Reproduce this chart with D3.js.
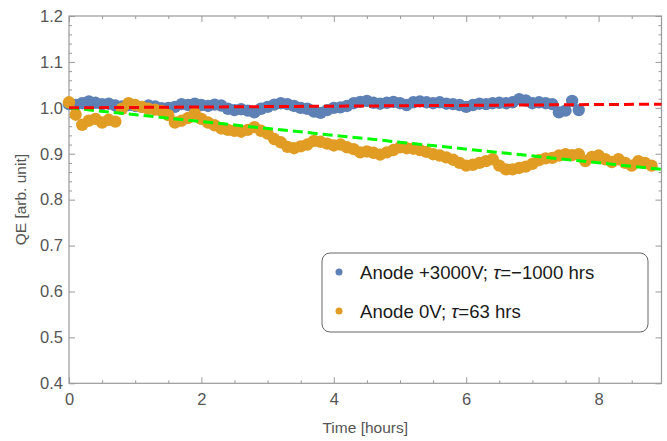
<!DOCTYPE html>
<html>
<head>
<meta charset="utf-8">
<script src="https://cdn.jsdelivr.net/npm/d3@7"></script>
<style>
  body { margin: 0; background: #fff; }
  text { font-family: "Liberation Sans", Arial, sans-serif; }
</style>
</head>
<body>
<svg id="chart"></svg>
<script>
const width = 667;
const height = 441;
const margin = { top: 16, right: 5.5, bottom: 57.7, left: 69 };

// time grid for the two runs (hours)
const timeAnode3000 = d3.range(78).map(i => i / 10);
const timeAnode0 = d3.range(89).map(i => i / 10);

const qeAnode3000 = [
    1.008, 1.006, 1.010, 1.014, 1.011, 1.008, 1.009, 1.005, 1.003, 1.006,
    1.004, 1.002, 1.005, 1.003, 0.999, 1.000, 1.002, 1.008, 1.006, 1.009,
    1.006, 1.004, 1.007, 1.005, 0.998, 0.995, 0.997, 0.994, 0.990, 0.998,
    1.002, 1.007, 1.010, 1.008, 1.004, 1.000, 0.998, 0.992, 0.989, 0.995,
    1.000, 1.001, 1.004, 1.010, 1.013, 1.015, 1.011, 1.009, 1.011, 1.013,
    1.010, 1.006, 1.012, 1.014, 1.012, 1.010, 1.012, 1.009, 1.008, 1.006,
    1.002, 1.006, 1.009, 1.008, 1.010, 1.011, 1.010, 1.012, 1.019, 1.016,
    1.010, 1.012, 1.010, 1.008, 0.990, 0.994, 1.015, 0.995
];

const qeAnode0 = [
    1.012, 0.985, 0.963, 0.972, 0.976, 0.968, 0.974, 0.970, 0.998, 1.010,
    1.006, 1.002, 0.998, 0.996, 0.993, 0.984, 0.968, 0.972, 0.978, 0.988,
    0.976, 0.968, 0.962, 0.955, 0.952, 0.950, 0.948, 0.952, 0.958, 0.950,
    0.944, 0.932, 0.925, 0.915, 0.912, 0.916, 0.920, 0.928, 0.926, 0.922,
    0.918, 0.920, 0.914, 0.910, 0.903, 0.905, 0.902, 0.898, 0.903, 0.908,
    0.914, 0.912, 0.911, 0.908, 0.904, 0.899, 0.896, 0.892, 0.887, 0.880,
    0.874, 0.876, 0.880, 0.884, 0.888, 0.874, 0.866, 0.866, 0.869, 0.872,
    0.878, 0.886, 0.890, 0.891, 0.896, 0.899, 0.897, 0.899, 0.884, 0.893,
    0.896, 0.888, 0.882, 0.888, 0.880, 0.874, 0.884, 0.880, 0.874
];

// fit lines, end points
const fitTime = [0, 8.95];
const fitAnode3000 = [1.000, 1.008];
const fitAnode0 = [1.000, 0.866];

const legendLabels = [
    ['Anode +3000V; ', 'τ', '=\u22121000 hrs'],
    ['Anode 0V; ', 'τ', '=63 hrs']
];
const xMajor = [0, 2, 4, 6, 8];
const xMinor = d3.range(0.5, 9, 0.5).filter(v => v % 2 !== 0);
const yMajor = [0.4, 0.5, 0.6, 0.7, 0.8, 0.9, 1.0, 1.1, 1.2];
const yMinor = d3.range(21, 60).map(i => 0.4 + i * 0.02).filter((v, i) => (i + 1) % 5 !== 0 && v < 1.2);

const blue = '#5e81b5';
const orange = '#e19c24';
const frameColor = '#999';
const labelColor = '#555';

const svg = d3.select('#chart')
    .attr('width', width)
    .attr('height', height);

const xScale = d3.scaleLinear().domain([0, 8.95]).range([margin.left, width - margin.right]);
const yScale = d3.scaleLinear().domain([0.4, 1.2]).range([height - margin.bottom, margin.top]);

const plotW = width - margin.right - margin.left;
const plotH = height - margin.bottom - margin.top;

function styleAxis(g) {
    g.select('.domain').remove();
    g.selectAll('line').attr('stroke', frameColor);
    g.selectAll('text').attr('fill', labelColor).style('font-size', '16.5px');
}

// bottom & top
svg.append('g')
    .attr('transform', `translate(0, ${height - margin.bottom})`)
    .call(d3.axisBottom(xScale).tickValues(xMajor).tickSize(-6).tickPadding(10).tickFormat(d3.format('d')))
    .call(styleAxis);
svg.append('g')
    .attr('transform', `translate(0, ${height - margin.bottom})`)
    .call(d3.axisBottom(xScale).tickValues(xMinor).tickSize(-3).tickFormat(''))
    .call(styleAxis);
svg.append('g')
    .attr('transform', `translate(0, ${margin.top})`)
    .call(d3.axisTop(xScale).tickValues(xMajor).tickSize(-6).tickFormat(''))
    .call(styleAxis);
svg.append('g')
    .attr('transform', `translate(0, ${margin.top})`)
    .call(d3.axisTop(xScale).tickValues(xMinor).tickSize(-3).tickFormat(''))
    .call(styleAxis);

// left & right
svg.append('g')
    .attr('transform', `translate(${margin.left}, 0)`)
    .call(d3.axisLeft(yScale).tickValues(yMajor).tickSize(-6).tickPadding(6).tickFormat(d3.format('.1f')))
    .call(styleAxis);
svg.append('g')
    .attr('transform', `translate(${margin.left}, 0)`)
    .call(d3.axisLeft(yScale).tickValues(yMinor).tickSize(-3).tickFormat(''))
    .call(styleAxis);
svg.append('g')
    .attr('transform', `translate(${width - margin.right}, 0)`)
    .call(d3.axisRight(yScale).tickValues(yMajor).tickSize(-6).tickFormat(''))
    .call(styleAxis);
svg.append('g')
    .attr('transform', `translate(${width - margin.right}, 0)`)
    .call(d3.axisRight(yScale).tickValues(yMinor).tickSize(-3).tickFormat(''))
    .call(styleAxis);

svg.append('rect')
    .attr('x', margin.left)
    .attr('y', margin.top)
    .attr('width', plotW)
    .attr('height', plotH)
    .attr('fill', 'none')
    .attr('stroke', frameColor)
    .attr('stroke-width', 1.2);

// axis titles
svg.append('text')
    .attr('x', margin.left + plotW / 2)
    .attr('y', 433)
    .attr('text-anchor', 'middle')
    .attr('fill', labelColor)
    .style('font-size', '15.5px')
    .text('Time [hours]');
svg.append('text')
    .attr('transform', `translate(26, ${margin.top + plotH / 2}) rotate(-90)`)
    .attr('text-anchor', 'middle')
    .attr('fill', labelColor)
    .style('font-size', '15.5px')
    .text('QE [arb. unit]');

// data points
const plot = svg.append('g');
plot.selectAll('.dot-3000')
    .data(qeAnode3000)
    .enter()
    .append('circle')
    .attr('class', 'dot-3000')
    .attr('cx', (d, i) => xScale(timeAnode3000[i]))
    .attr('cy', d => yScale(d))
    .attr('r', 6.2)
    .attr('fill', blue);

plot.selectAll('.dot-0')
    .data(qeAnode0)
    .enter()
    .append('circle')
    .attr('class', 'dot-0')
    .attr('cx', (d, i) => xScale(timeAnode0[i]))
    .attr('cy', d => yScale(d))
    .attr('r', 6.2)
    .attr('fill', orange);

// fits
const fitLine = d3.line()
    .x((d, i) => xScale(fitTime[i]))
    .y(d => yScale(d));

svg.append('path')
    .datum(fitAnode0)
    .attr('d', fitLine)
    .attr('fill', 'none')
    .attr('stroke', '#00ff00')
    .attr('stroke-width', 3)
    .attr('stroke-dasharray', '10,5');

svg.append('path')
    .datum(fitAnode3000)
    .attr('d', fitLine)
    .attr('fill', 'none')
    .attr('stroke', '#ff0000')
    .attr('stroke-width', 3)
    .attr('stroke-dasharray', '10,5');

// legend
const legend = svg.append('g');
legend.append('rect')
    .attr('x', 322)
    .attr('y', 253)
    .attr('width', 326)
    .attr('height', 79)
    .attr('rx', 8)
    .attr('fill', '#fff')
    .attr('stroke', '#666')
    .attr('stroke-width', 1);

legend.selectAll('.legend-item')
    .data(legendLabels)
    .enter()
    .append('g')
    .attr('class', 'legend-item')
    .attr('transform', (d, i) => `translate(339, ${272 + i * 39})`)
    .each(function(d, i) {
        const g = d3.select(this);
        g.append('circle')
            .attr('r', 3.5)
            .attr('fill', i === 0 ? blue : orange);
        const t = g.append('text')
            .attr('x', 21)
            .attr('dy', '0.35em')
            .attr('fill', '#1a1a1a')
            .style('font-size', '18.6px');
        t.append('tspan').text(d[0]);
        t.append('tspan').style('font-style', 'italic').text(d[1]);
        t.append('tspan').text(d[2]);
    });
</script>
</body>
</html>
